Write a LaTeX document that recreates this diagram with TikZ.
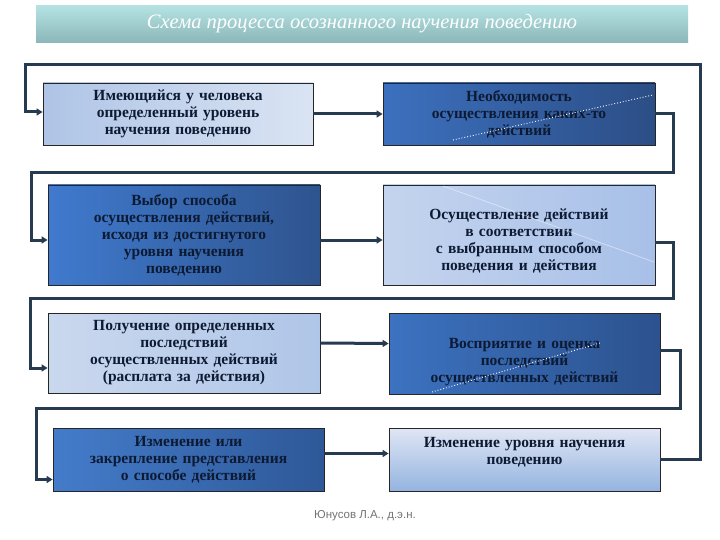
\documentclass[tikz,border=0pt]{standalone}
\usepackage{fontspec}
\setmainfont{Liberation Serif}
\newfontfamily\footfont{Liberation Sans}
\usetikzlibrary{arrows.meta,calc}
\definecolor{conn}{HTML}{263A50}
\definecolor{txt}{HTML}{0D1A33}
\definecolor{tealtop}{HTML}{B4E2E2}
\definecolor{tealbot}{HTML}{8CB6B9}
\tikzset{
  boxbase/.style={draw=black!85, line width=0.8pt, align=center, text width=262pt,
    inner sep=2pt, font=\fontsize{15.5}{17}\selectfont\bfseries, text=txt},
  conline/.style={draw=conn, line width=3pt},
  conarrow/.style={conline, -{Triangle[length=6pt,width=7pt]}},
  dotline/.style={draw=white, line width=0.9pt, dotted},
}
\begin{document}
\begin{tikzpicture}[x=1pt,y=-1pt]
\useasboundingbox (0,0) rectangle (720,540);
\fill[white] (0,0) rectangle (720,540);
% title bar
\shade[top color=tealtop, bottom color=tealbot] (36,6) rectangle (688,43);
\node[font=\fontsize{20.5}{24}\selectfont\itshape, text=white] (title) at (362,24) {Схема процесса осознанного научения поведению};
% boxes
\node[boxbase, left color={rgb,255:red,175;green,196;blue,230}, right color={rgb,255:red,218;green,228;blue,243}, minimum width=270pt, minimum height=62pt] (b1) at (178,114)
  {Имеющийся у человека\\определенный уровень\\научения поведению};
\node[boxbase, left color={rgb,255:red,60;green,112;blue,190}, right color={rgb,255:red,44;green,78;blue,134}, minimum width=272pt, minimum height=62pt] (b2) at (519,114)
  {Необходимость\\осуществления каких-то\\действий};
\node[boxbase, left color={rgb,255:red,64;green,122;blue,206}, right color={rgb,255:red,46;green,84;blue,142}, minimum width=272pt, minimum height=100pt] (b3) at (184,235)
  {Выбор способа\\осуществления действий,\\исходя из достигнутого\\уровня научения\\поведению};
\node[boxbase, left color={rgb,255:red,196;green,212;blue,238}, right color={rgb,255:red,168;green,192;blue,232}, minimum width=272pt, minimum height=100pt] (b4) at (519,235)
  {\rule{0pt}{23pt}Осуществление действий\\в соответствии\\с выбранным способом\\поведения и действия};
\node[boxbase, left color={rgb,255:red,202;green,216;blue,238}, right color={rgb,255:red,176;green,198;blue,232}, minimum width=272pt, minimum height=80pt] (b5) at (184,353)
  {Получение определенных\\последствий\\осуществленных действий\\(расплата за действия)};
\node[boxbase, left color={rgb,255:red,60;green,114;blue,192}, right color={rgb,255:red,44;green,82;blue,142}, minimum width=271pt, minimum height=81pt] (b6) at (524.5,353.5)
  {\rule{0pt}{27pt}Восприятие и оценка\\последствий\\осуществленных действий};
\node[boxbase, left color={rgb,255:red,68;green,124;blue,202}, right color={rgb,255:red,46;green,88;blue,152}, minimum width=271pt, minimum height=63pt] (b7) at (188.5,459.5)
  {Изменение или\\закрепление представления\\о способе действий};
\node[boxbase, top color={rgb,255:red,224;green,230;blue,244}, bottom color={rgb,255:red,148;green,180;blue,224}, minimum width=271pt, minimum height=63pt] (b8) at (524.5,459.5)
  {Изменение уровня научения\\поведению\\\mbox{}};
% decorative lines
\draw[dotline] (453,140) -- (653,95);
\draw[dotline] (432,392) -- (600,343);
\draw[draw=white, opacity=0.45, line width=0.8pt] (443,186) -- (654,262);
% corner coordinates
\coordinate (k1) at (673,173);
\coordinate (k2) at (31,173);
\coordinate (k3) at (673,298);
\coordinate (k4) at (30,298);
\coordinate (k5) at (680,408);
\coordinate (k6) at (36,408);
\coordinate (k7) at (700,65);
\coordinate (k8) at (25,65);
% horizontal connectors
\draw[conarrow] (b1.east) -- (b2.west);
\draw[conarrow] ($(b3.east)+(0,5)$) -- ($(b4.west)+(0,5)$);
\draw[conarrow] ($(b5.east)+(0,-10)$) -- ($(b6.west)+(0,-10)$);
\draw[conarrow] ($(b7.east)+(0,-6)$) -- ($(b8.west)+(0,-6)$);
% loops
\draw[conarrow] (b2.east) -| (k1) -- (k2) |- ($(b3.west)+(0,5)$);
\draw[conarrow] ($(b4.east)+(0,7)$) -| (k3) -- (k4) |- ($(b5.west)+(0,15)$);
\draw[conarrow] ($(b6.east)+(0,-3)$) -| (k5) -- (k6) |- ($(b7.west)+(0,20)$);
\draw[conarrow] (b8.east) -| (k7) -- (k8) |- ($(b1.west)+(0,-2)$);
% footer
\node[font=\footfont\fontsize{11.5}{13}\selectfont, text=black!55] (foot) at (365,516) {Юнусов Л.А., д.э.н.};
\end{tikzpicture}
\end{document}
